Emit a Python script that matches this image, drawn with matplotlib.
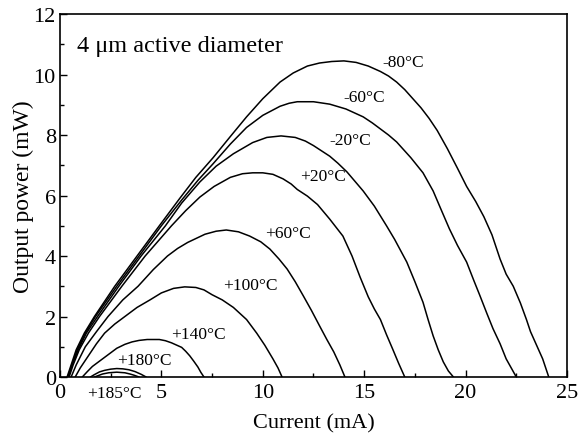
import matplotlib
matplotlib.use("Agg")
import matplotlib.pyplot as plt
from matplotlib.ticker import MultipleLocator

plt.rcParams['font.family'] = ['Liberation Serif', 'DejaVu Serif']

# ---- data (current in mA, output power in mW) ----
labels = ["-80°C", "-60°C", "-20°C", "+20°C", "+60°C", "+100°C", "+140°C", "+180°C", "+185°C"]

x_m80 = [0.35, 0.55, 0.8, 1.2, 1.7, 2.2, 2.7, 3.25, 3.8, 4.35, 4.9, 5.4, 5.9, 6.7, 7.55, 8.4, 9.2, 10.0,
         10.85, 11.5, 12.2, 12.8, 13.4, 14.0, 14.6, 15.2, 15.8, 16.2, 16.6, 17.0, 17.4, 17.8, 18.2, 18.6,
         19.1, 19.6, 20.05, 20.5, 20.9, 21.3, 21.7, 22.0, 22.35, 22.7, 23.0, 23.2, 23.5, 23.8, 24.1]
y_m80 = [0.0, 0.4, 0.9, 1.45, 2.0, 2.5, 3.0, 3.5, 4.0, 4.5, 5.0, 5.45, 5.9, 6.6, 7.25, 7.95, 8.6, 9.2,
         9.75, 10.05, 10.28, 10.38, 10.43, 10.45, 10.4, 10.28, 10.1, 9.95, 9.75, 9.5, 9.2, 8.9, 8.55, 8.15,
         7.55, 6.9, 6.3, 5.8, 5.3, 4.7, 3.9, 3.4, 3.0, 2.45, 1.9, 1.5, 1.05, 0.6, 0.0]

x_m60 = [0.4, 0.6, 0.85, 1.25, 1.75, 2.8, 3.9, 5.0, 6.0, 6.8, 7.55, 8.4, 9.2, 10.0, 10.85, 11.3, 11.7,
         12.5, 13.3, 14.1, 14.95, 15.4, 15.8, 16.2, 16.6, 17.3, 17.9, 18.4, 18.75, 19.2, 19.6, 20.05, 20.4,
         20.7, 21.05, 21.35, 21.7, 22.0, 22.25, 22.5]
y_m60 = [0.0, 0.4, 0.9, 1.45, 2.0, 3.0, 4.0, 5.0, 5.85, 6.5, 7.05, 7.7, 8.25, 8.65, 8.95, 9.05, 9.1,
         9.1, 9.02, 8.86, 8.6, 8.4, 8.2, 8.0, 7.77, 7.25, 6.75, 6.15, 5.6, 4.9, 4.35, 3.8, 3.2,
         2.7, 2.1, 1.6, 1.1, 0.6, 0.3, 0.0]

x_m20 = [0.4, 0.6, 0.9, 1.3, 1.85, 2.9, 4.0, 5.2, 6.0, 6.9, 7.7, 8.55, 9.5, 10.2, 10.9, 11.6, 12.1,
         12.5, 13.3, 13.7, 14.15, 14.95, 15.5, 16.1, 16.5, 17.1, 17.5, 17.9, 18.15, 18.4, 18.65, 18.9,
         19.15, 19.4]
y_m20 = [0.0, 0.4, 0.9, 1.45, 2.0, 3.0, 4.0, 5.0, 5.75, 6.45, 6.97, 7.38, 7.75, 7.92, 7.97, 7.92, 7.8,
         7.65, 7.3, 7.07, 6.78, 6.15, 5.65, 5.0, 4.55, 3.8, 3.15, 2.47, 1.9, 1.36, 0.9, 0.5,
         0.2, 0.0]

x_p20 = [0.45, 0.65, 0.95, 1.4, 1.95, 3.05, 4.2, 5.5, 6.2, 6.9, 7.6, 8.4, 9.0, 9.5, 10.0, 10.5, 11.0,
         11.4, 11.7, 12.2, 12.7, 13.3, 13.95, 14.4, 14.8, 15.2, 15.5, 15.8, 16.1, 16.4, 16.7, 17.0]
y_p20 = [0.0, 0.4, 0.9, 1.45, 2.0, 3.0, 4.0, 5.0, 5.5, 5.95, 6.3, 6.6, 6.72, 6.75, 6.75, 6.7, 6.55,
         6.38, 6.2, 5.98, 5.7, 5.22, 4.66, 4.0, 3.3, 2.65, 2.25, 1.9, 1.4, 0.93, 0.45, 0.0]

x_p60 = [0.55, 0.8, 1.25, 1.8, 2.37, 3.1, 3.85, 4.6, 5.3, 5.8, 6.3, 7.15, 7.7, 8.2, 8.8, 9.35, 9.9,
         10.35, 10.8, 11.2, 11.6, 12.0, 12.4, 12.8, 13.15, 13.5, 13.8, 14.05]
y_p60 = [0.0, 0.4, 1.0, 1.5, 2.0, 2.55, 3.0, 3.55, 4.0, 4.25, 4.45, 4.72, 4.82, 4.86, 4.8, 4.66, 4.47,
         4.23, 3.9, 3.57, 3.15, 2.68, 2.2, 1.69, 1.25, 0.83, 0.4, 0.0]

x_p100 = [0.75, 1.0, 1.4, 1.8, 2.2, 2.7, 3.2, 3.8, 4.44, 5.0, 5.6, 6.15, 6.7, 7.1, 7.5, 8.0, 8.55,
          9.2, 9.7, 10.1, 10.5, 10.75, 10.95]
y_p100 = [0.0, 0.3, 0.7, 1.1, 1.45, 1.75, 2.0, 2.3, 2.55, 2.78, 2.93, 2.98, 2.96, 2.88, 2.72, 2.55, 2.3,
          1.9, 1.45, 1.05, 0.6, 0.3, 0.0]

x_p140 = [1.1, 1.35, 1.6, 2.2, 2.8, 3.2, 3.55, 3.9, 4.3, 4.9, 5.2, 5.5, 6.0, 6.2, 6.4, 6.6, 6.8, 6.95, 7.1]
y_p140 = [0.0, 0.18, 0.35, 0.65, 0.95, 1.08, 1.16, 1.21, 1.24, 1.24, 1.2, 1.13, 0.98, 0.85, 0.7, 0.52,
          0.33, 0.15, 0.0]

x_p180 = [1.5, 1.7, 1.95, 2.2, 2.5, 2.8, 3.1, 3.4, 3.7, 4.0, 4.25]
y_p180 = [0.0, 0.08, 0.17, 0.22, 0.26, 0.28, 0.27, 0.24, 0.18, 0.09, 0.0]

x_p185 = [1.7, 1.9, 2.1, 2.4, 2.8, 3.2, 3.45, 3.65, 3.9]
y_p185 = [0.0, 0.05, 0.1, 0.14, 0.16, 0.14, 0.1, 0.06, 0.0]

xs = [x_m80, x_m60, x_m20, x_p20, x_p60, x_p100, x_p140, x_p180, x_p185]
ys = [y_m80, y_m60, y_m20, y_p20, y_p60, y_p100, y_p140, y_p180, y_p185]

# label anchor (left edge, vertical centre) in data coordinates
label_x = [15.9, 13.95, 13.3, 11.83, 10.1, 8.05, 5.5, 2.8, 1.35]
label_y = [10.4, 9.25, 7.83, 6.63, 4.76, 3.04, 1.42, 0.56, -0.53]

x_ticks = [0, 5, 10, 15, 20, 25]
y_ticks = [0, 2, 4, 6, 8, 10, 12]

# ---- figure ----
fig = plt.figure(figsize=(5.8, 4.35), dpi=100)
ax = fig.add_axes([0.1034, 0.131, 0.8742, 0.8345])

for x, y in zip(xs, ys):
    ax.plot(x, y, color='black', lw=1.1, solid_joinstyle='round', solid_capstyle='round')

for lab, lx, ly in zip(labels, label_x, label_y):
    ax.text(lx, ly, lab, fontsize=12.5, ha='left', va='center', clip_on=False)

ax.text(0.85, 10.97, "4 μm active diameter", fontsize=17.5, ha='left', va='center')

ax.set_xlim(0, 25)
ax.set_ylim(0, 12)
ax.set_xticks(x_ticks)
ax.set_yticks(y_ticks)
ax.xaxis.set_minor_locator(MultipleLocator(2.5))
ax.yaxis.set_minor_locator(MultipleLocator(1))
ax.tick_params(which='both', direction='in', top=False, right=False, labelsize=16, width=1.0)
ax.tick_params(axis='x', which='major', length=5, pad=4.5)
ax.tick_params(axis='y', which='major', length=5, pad=3)
ax.tick_params(which='minor', length=3)
for s in ax.spines.values():
    s.set_linewidth(1.2)

ax.set_xlabel("Current (mA)", fontsize=16, labelpad=8)
ax.set_ylabel("Output power (mW)", fontsize=17, labelpad=0)

fig.savefig("out.png", dpi=100)
